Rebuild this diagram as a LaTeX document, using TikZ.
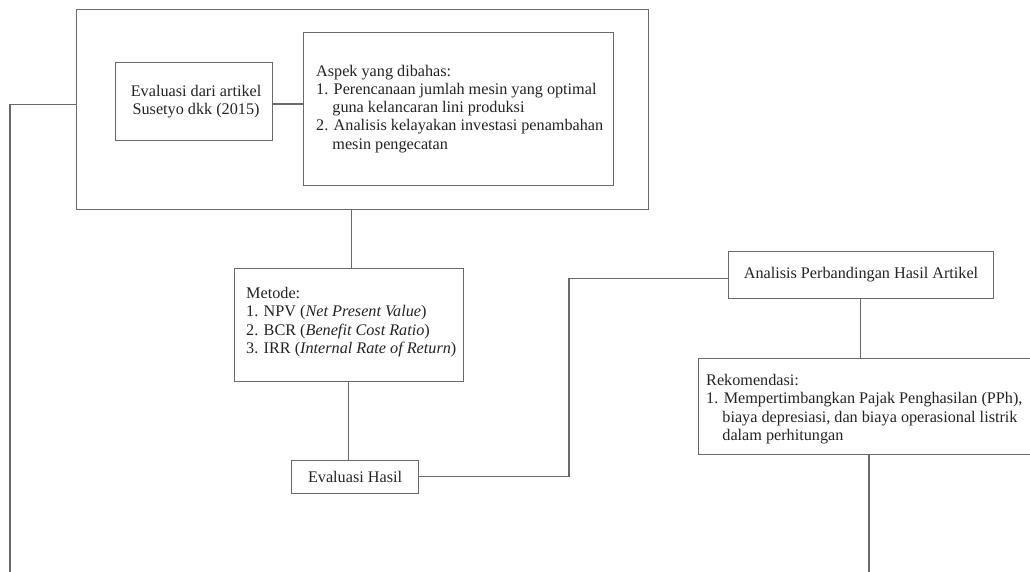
\documentclass[tikz,border=0pt]{standalone}
\usepackage{fontspec}
\setmainfont{Liberation Serif}
\definecolor{linegray}{RGB}{105,105,105}
\definecolor{textgray}{RGB}{35,35,35}
\begin{document}
\begin{tikzpicture}[x=1pt,y=-1pt,
  box/.style={draw=linegray, line width=1.1pt, inner sep=0pt, anchor=north west},
  conn/.style={draw=linegray, line width=1.1pt},
  txt/.style={text=textgray, inner sep=0pt, align=left, font=\fontsize{16.2}{18.3}\selectfont}]
\useasboundingbox (0,0) rectangle (1030,571);
\clip (0,0) rectangle (1030,571);
% boxes
\node[box, minimum width=572.5pt, minimum height=199.5pt] (outer) at (75.5,9) {};
\node[box, minimum width=157pt, minimum height=77.2pt] (eval) at (115,62.3) {};
\node[box, minimum width=310pt, minimum height=153pt] (aspek) at (303,31.7) {};
\node[box, minimum width=228.5pt, minimum height=112.5pt] (metode) at (234,268.3) {};
\node[box, minimum width=127pt, minimum height=33pt] (hasil) at (291,460.3) {};
\node[box, minimum width=264.5pt, minimum height=46.7pt] (analisis) at (728.2,251) {};
\node[box, minimum width=345pt, minimum height=96pt] (rekom) at (697.5,358.3) {};
% texts
\node[txt, align=center, anchor=center] (evalT) at ([xshift=2pt]eval.center) {Evaluasi dari artikel\\Susetyo dkk (2015)};
\node[txt, anchor=north west] (aspekT) at (316,64.6) {Aspek yang dibahas:\\
1. Perencanaan jumlah mesin yang optimal\\
\hspace*{1em}guna kelancaran lini produksi\\
2. Analisis kelayakan investasi penambahan\\
\hspace*{1em}mesin pengecatan};
\node[txt, anchor=north west] (metodeT) at (246,287.2) {Metode:\\
1. NPV (\textit{Net Present Value})\\
2. BCR (\textit{Benefit Cost Ratio})\\
3. IRR (\textit{Internal Rate of Return})};
\node[txt, anchor=center] (hasilT) at (hasil.center) {Evaluasi Hasil};
\node[txt, anchor=center] (analisisT) at (analisis.center) {Analisis Perbandingan Hasil Artikel};
\node[txt, anchor=north west] (rekomT) at (706,374) {Rekomendasi:\\
1. Mempertimbangkan Pajak Penghasilan (PPh),\\
\hspace*{1em}biaya depresiasi, dan biaya operasional listrik\\
\hspace*{1em}dalam perhitungan};
% free ends
\coordinate (leftEnd) at (10,575);
\coordinate (rightEnd) at (869,575);
% connectors
\draw[conn] (eval.east |- 0,104) -- (aspek.west |- 0,104);
\draw[conn] (outer.west |- 0,104.5) -| (leftEnd);
\draw[conn] (outer.south -| 351.5,0) -- (metode.north -| 351.5,0);
\draw[conn] (metode.south -| 348.3,0) -- (hasil.north -| 348.3,0);
\draw[conn] (hasil.east |- 0,476.7) -- (569,476.7) |- (analisis.west |- 0,278.5);
\draw[conn] (analisis.south -| 860.7,0) -- (rekom.north -| 860.7,0);
\draw[conn] (rekom.south -| rightEnd) -- (rightEnd);
\end{tikzpicture}
\end{document}
